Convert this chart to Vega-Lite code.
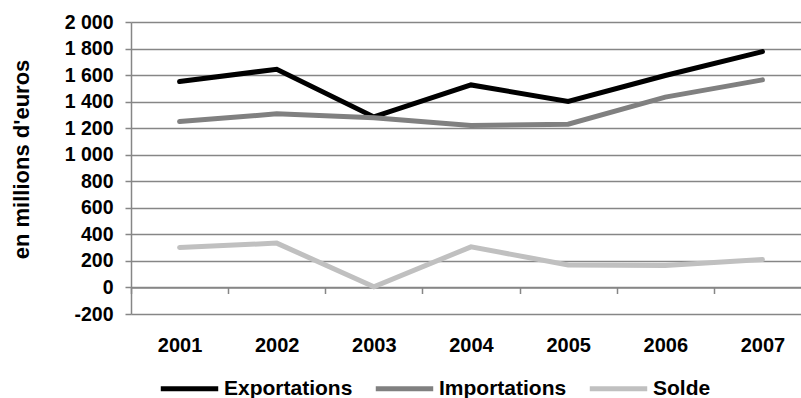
{
  "$schema": "https://vega.github.io/schema/vega-lite/v6.json",
  "width": 670,
  "height": 292,
  "autosize": {"type": "none"},
  "padding": {"left": 131, "top": 22, "right": 0, "bottom": 84},
  "background": "white",
  "config": {"view": {"stroke": null}, "font": "Liberation Sans"},
  "data": {"values": [
    {"year": "2001", "series": "Exportations", "value": 1551},
    {"year": "2002", "series": "Exportations", "value": 1644},
    {"year": "2003", "series": "Exportations", "value": 1285},
    {"year": "2004", "series": "Exportations", "value": 1526},
    {"year": "2005", "series": "Exportations", "value": 1401},
    {"year": "2006", "series": "Exportations", "value": 1597},
    {"year": "2007", "series": "Exportations", "value": 1777},
    {"year": "2001", "series": "Importations", "value": 1250},
    {"year": "2002", "series": "Importations", "value": 1308},
    {"year": "2003", "series": "Importations", "value": 1278},
    {"year": "2004", "series": "Importations", "value": 1220},
    {"year": "2005", "series": "Importations", "value": 1230},
    {"year": "2006", "series": "Importations", "value": 1434},
    {"year": "2007", "series": "Importations", "value": 1564},
    {"year": "2001", "series": "Solde", "value": 301},
    {"year": "2002", "series": "Solde", "value": 334},
    {"year": "2003", "series": "Solde", "value": 5},
    {"year": "2004", "series": "Solde", "value": 306},
    {"year": "2005", "series": "Solde", "value": 170},
    {"year": "2006", "series": "Solde", "value": 166},
    {"year": "2007", "series": "Solde", "value": 210}
  ]},
  "mark": {"type": "line", "strokeWidth": 5, "strokeCap": "round"},
  "encoding": {
    "x": {
      "field": "year", "type": "ordinal",
      "scale": {"type": "band", "paddingInner": 0, "paddingOuter": 0, "range": [0, 680]},
      "axis": {
        "title": null, "orient": "bottom", "offset": -26.5,
        "tickBand": "extent", "ticks": true, "tickSize": 6, "tickColor": "#868686", "tickWidth": 1.5,
        "domain": true, "domainColor": "#868686", "domainWidth": 1.5,
        "labelAngle": 0, "labelFont": "Liberation Sans", "labelFontSize": 20, "labelFontWeight": "bold",
        "labelColor": "#000000", "labelPadding": 42, "grid": false
      }
    },
    "y": {
      "field": "value", "type": "quantitative",
      "scale": {"domain": [-200, 2000], "nice": false, "zero": false},
      "axis": {
        "title": "en millions d'euros",
        "values": [-200, 0, 200, 400, 600, 800, 1000, 1200, 1400, 1600, 1800, 2000],
        "grid": true, "gridColor": "#868686", "gridWidth": 1.5,
        "domain": true, "domainColor": "#868686", "domainWidth": 1.5,
        "tickColor": "#868686", "tickSize": 6, "tickWidth": 1.5,
        "labelFont": "Liberation Sans", "labelFontSize": 19.5, "labelFontWeight": "bold", "labelColor": "#000000",
        "labelPadding": 12,
        "labelExpr": "replace(replace(format(datum.value, ','), ',', ' '), '\u2212', '-')",
        "titleFont": "Liberation Sans", "titleFontSize": 22, "titleFontWeight": "bold", "titleColor": "#000000",
        "titleX": -110, "titleY": 137, "titleAngle": -90, "titleAlign": "center", "titleBaseline": "middle"
      }
    },
    "color": {
      "field": "series", "type": "nominal",
      "scale": {"domain": ["Exportations", "Importations", "Solde"], "range": ["#000000", "#808080", "#c0c0c0"]},
      "legend": {
        "title": null, "orient": "none", "legendX": 27, "legendY": 335, "direction": "horizontal",
        "symbolType": "stroke", "symbolStrokeWidth": 5, "symbolSize": 3300,
        "labelFont": "Liberation Sans", "labelFontSize": 21, "labelFontWeight": "bold", "labelColor": "#000000",
        "columnPadding": 12, "labelOffset": 3, "labelLimit": 300
      }
    }
  }
}
